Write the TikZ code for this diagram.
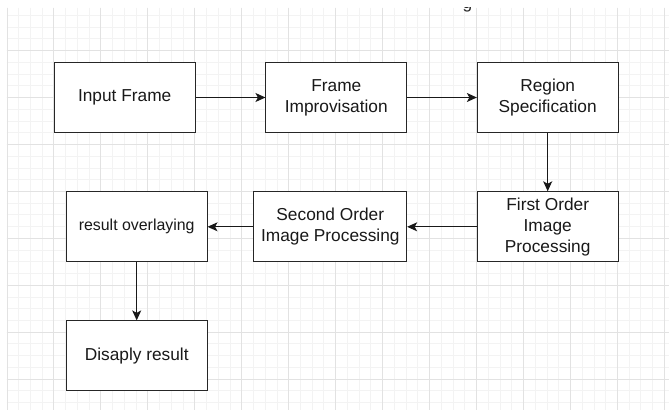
\documentclass[tikz,border=0pt]{standalone}
\usepackage{fontspec}
\setmainfont{Liberation Sans}
\usetikzlibrary{arrows.meta}

\definecolor{gridmajor}{HTML}{E2E2E2}
\definecolor{gridminor}{HTML}{F3F3F3}
\tikzset{
  stagebox/.style={draw=black!85, line width=1pt, fill=white, minimum width=141pt,
    minimum height=70pt, align=center, inner sep=2pt, text=black!90,
    font=\fontsize{17.3}{20.8}\selectfont},
  flow/.style={line width=1pt, black!90, -{Stealth[length=10pt,width=9pt,inset=2.5pt]}},
  minorline/.style={gridminor, line width=1pt},
  majorline/.style={gridmajor, line width=1pt},
}

\begin{document}
\begin{tikzpicture}[x=1pt,y=-1pt]
  \useasboundingbox (0,0) rectangle (669,410);
  \fill[white] (0,0) rectangle (669,410);

  %background grid
  \begin{scope}
    \clip (6.5,7.5) rectangle (669,410);
    \foreach \k in {0,...,56} \draw[minorline] ({7+11.74*\k},7.5) -- ++(0,402.5);
    \foreach \k in {-3,...,30} \draw[minorline] (6.5,{50.7+11.73*\k}) -- ++(662.5,0);
    \foreach \k in {0,...,14} \draw[majorline] ({7+46.97*\k},7.5) -- ++(0,402.5);
    \foreach \k in {0,...,7} \draw[majorline] (6.5,{50.7+46.93*\k}) -- ++(662.5,0);
    %cut-off title
    \node[anchor=base, inner sep=0pt, text=black!85, font=\fontsize{17.3}{20.8}\selectfont]
      (titletail) at (467.5,8.2) {g};
  \end{scope}

  %stages
  \node[stagebox] (inframe) at (124.7,97.5) {Input Frame};
  \node[stagebox, minimum width=140.7pt] (improv) at (336.3,97.5) {Frame\\Improvisation};
  \node[stagebox, minimum width=140.7pt] (region) at (547.7,97.5) {Region\\Specification};
  \node[stagebox, minimum width=140.7pt] (firstord) at (547.7,226.8) {First Order\\Image\\Processing};
  \node[stagebox, minimum width=152.7pt] (secondord) at (330.3,226.8) {Second Order\\Image Processing};
  \node[stagebox, minimum width=140.7pt, font=\fontsize{15.9}{19}\selectfont]
    (overlay) at (136.7,226.8) {result overlaying};
  \node[stagebox, minimum width=140.7pt] (display) at (136.7,355.9) {Disaply result};

  %connectors
  \draw[flow] (inframe) -- (improv);
  \draw[flow] (improv) -- (region);
  \draw[flow] (region) -- (firstord);
  \draw[flow] (firstord) -- (secondord);
  \draw[flow] (secondord) -- (overlay);
  \draw[flow] (overlay) -- (display);
\end{tikzpicture}
\end{document}
